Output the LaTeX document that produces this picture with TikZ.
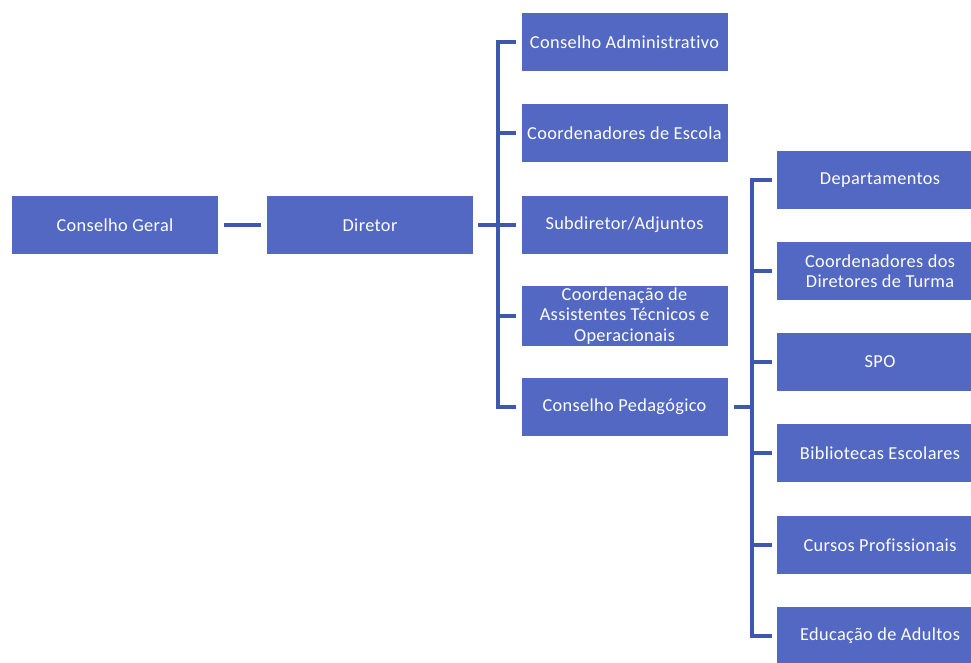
\documentclass[tikz,border=0pt]{standalone}
\usepackage{fontspec}
\setmainfont[LetterSpace=2,Ligatures={NoCommon}]{Carlito}
\definecolor{boxblue}{RGB}{82,104,194}
\definecolor{lineblue}{RGB}{62,88,176}
\begin{document}
\begin{tikzpicture}[x=1pt,y=1pt,
  orgbox/.style={fill=boxblue, draw=none, minimum width=206pt, minimum height=58pt,
    inner sep=2pt, text=white, align=center,
    font=\fontsize{18.3}{20.5}\selectfont},
  conn/.style={draw=lineblue, line width=4.2pt}]
\useasboundingbox (0,0) rectangle (971,-662);
\fill[white] (0,0) rectangle (971,-662);
\clip (0,0) rectangle (971,-662);
% left
\node[orgbox] (cg) at (115,-225) {Conselho Geral};
\node[orgbox] (dir) at (370,-225) {Diretor};
% column 1
\node[orgbox] (a1) at (624.5,-42) {Conselho Administrativo};
\node[orgbox] (a2) at (624.5,-133) {Coordenadores de Escola};
\node[orgbox] (a3) at (624.5,-225) {Subdiretor/Adjuntos};
\node[orgbox] (a4) at (624.5,-316) {Coordenação de\\Assistentes Técnicos e\\Operacionais};
\node[orgbox] (a5) at (624.5,-407) {Conselho Pedagógico};
% column 2
\node[orgbox] (b1) at (880,-180) {Departamentos};
\node[orgbox] (b2) at (880,-271) {Coordenadores dos\\Diretores de Turma};
\node[orgbox] (b3) at (880,-362) {SPO};
\node[orgbox] (b4) at (880,-453) {Bibliotecas Escolares};
\node[orgbox] (b5) at (880,-545) {Cursos Profissionais};
\node[orgbox] (b6) at (880,-636) {Educação de Adultos};
% trunks
\coordinate (t1) at (498,0);
\coordinate (t2) at (752,0);
% connectors
\draw[conn] ([xshift=6pt]cg.east) -- ([xshift=-6pt]dir.west);
\draw[conn] ([xshift=5pt]dir.east) -- ([xshift=-5pt]a3.west);
\draw[conn] (t1 |- a1.west) -- (t1 |- a5.west);
\foreach \n in {a1,a2,a4,a5}
  \draw[conn] ([xshift=-2pt]t1 |- \n.west) -- ([xshift=-5pt]\n.west);
\draw[conn] ([xshift=6pt]a5.east) -- ([xshift=2pt]t2 |- a5.east);
\draw[conn] (t2 |- b1.west) -- (t2 |- b6.west);
\foreach \n in {b1,b2,b3,b4,b5,b6}
  \draw[conn] ([xshift=-2pt]t2 |- \n.west) -- ([xshift=-5pt]\n.west);
\end{tikzpicture}
\end{document}
